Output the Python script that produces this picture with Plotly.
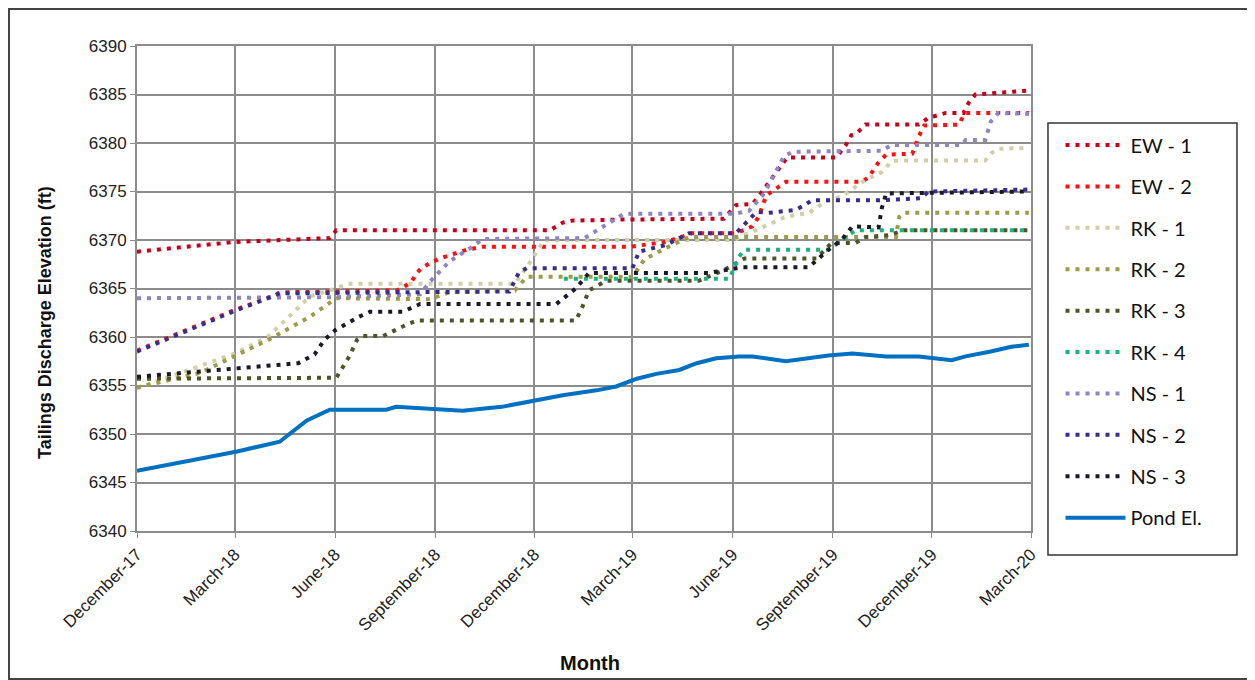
import plotly.graph_objects as go

# ---------------- data ----------------
ew1_dates = ["2017-12-01", "2018-03-01", "2018-05-27", "2018-06-02", "2018-12-15", "2018-12-27",
             "2019-01-05", "2019-02-17", "2019-05-24", "2019-05-29", "2019-06-04", "2019-06-19",
             "2019-06-25", "2019-07-04", "2019-07-12", "2019-07-21", "2019-09-04", "2019-09-13",
             "2019-09-18", "2019-09-23", "2019-10-01", "2019-11-19", "2019-11-28", "2019-12-06",
             "2019-12-14", "2019-12-30", "2020-01-04", "2020-01-10", "2020-02-12", "2020-02-28"]
ew1_vals = [6368.8, 6369.8, 6370.2, 6371.0, 6371.0, 6371.8,
            6372.0, 6372.1, 6372.2, 6372.8, 6373.6, 6373.7,
            6374.5, 6375.9, 6377.2, 6378.5, 6378.5, 6379.8,
            6380.8, 6381.0, 6381.9, 6381.9, 6382.6, 6382.9,
            6383.1, 6383.1, 6384.2, 6385.0, 6385.2, 6385.4]

ew2_dates = ["2017-12-01", "2018-03-01", "2018-04-07", "2018-04-11", "2018-07-27", "2018-08-01",
             "2018-08-10", "2018-08-15", "2018-08-20", "2018-09-05", "2018-09-30", "2018-10-14",
             "2019-02-26", "2019-03-12", "2019-04-01", "2019-04-25", "2019-06-04", "2019-06-19",
             "2019-06-25", "2019-06-28", "2019-07-02", "2019-07-07", "2019-07-20", "2019-09-28",
             "2019-10-04", "2019-10-13", "2019-10-20", "2019-11-13", "2019-11-16", "2019-11-19",
             "2019-11-24", "2019-12-26", "2019-12-28", "2020-01-01", "2020-02-28"]
ew2_vals = [6358.6, 6362.8, 6364.3, 6364.6, 6364.8, 6365.0,
            6365.7, 6366.6, 6367.2, 6368.1, 6369.0, 6369.3,
            6369.3, 6369.5, 6369.8, 6370.7, 6370.7, 6371.4,
            6372.4, 6373.4, 6374.6, 6375.0, 6376.0, 6376.0,
            6376.5, 6378.0, 6378.8, 6378.9, 6379.8, 6380.7,
            6381.8, 6381.9, 6382.4, 6383.1, 6383.1]

rk1_dates = ["2017-12-01", "2018-03-01", "2018-03-31", "2018-04-20", "2018-05-09", "2018-06-02",
             "2018-06-12", "2018-11-13", "2018-11-24", "2018-12-10", "2019-06-02", "2019-07-20",
             "2019-08-10", "2019-08-26", "2019-09-09", "2019-09-22", "2019-10-01", "2019-10-16",
             "2019-10-25", "2019-11-01", "2020-01-19", "2020-01-25", "2020-01-31", "2020-02-28"]
rk1_vals = [6354.7, 6358.3, 6360.0, 6362.1, 6364.2, 6365.0,
            6365.5, 6365.5, 6367.2, 6370.0, 6370.0, 6372.4,
            6372.8, 6374.0, 6374.5, 6375.5, 6376.2, 6377.0,
            6378.1, 6378.2, 6378.2, 6379.0, 6379.4, 6379.5]

rk2_dates = ["2017-12-01", "2018-01-28", "2018-04-02", "2018-05-09", "2018-05-24", "2018-06-02",
             "2018-08-27", "2018-09-14", "2018-11-13", "2018-11-24", "2019-03-01", "2019-03-12",
             "2019-04-01", "2019-04-22", "2019-10-29", "2019-11-01", "2019-11-05", "2020-02-28"]
rk2_vals = [6354.8, 6356.3, 6359.8, 6362.1, 6363.3, 6364.0,
            6363.9, 6364.6, 6364.8, 6366.2, 6366.2, 6368.0,
            6369.2, 6370.3, 6370.3, 6372.4, 6372.8, 6372.8]

rk3_dates = ["2017-12-01", "2018-06-02", "2018-06-14", "2018-06-21", "2018-06-26", "2018-07-15",
             "2018-08-06", "2018-08-15", "2019-01-08", "2019-01-14", "2019-01-20", "2019-02-05",
             "2019-05-01", "2019-05-24", "2019-06-12", "2019-08-17", "2019-08-31", "2019-09-22",
             "2019-10-01", "2019-10-23", "2019-11-05", "2020-02-28"]
rk3_vals = [6355.7, 6355.8, 6358.0, 6359.7, 6360.1, 6360.1,
            6361.3, 6361.7, 6361.7, 6363.1, 6364.8, 6365.8,
            6365.8, 6366.9, 6368.1, 6368.1, 6369.7, 6369.7,
            6370.3, 6370.5, 6371.0, 6371.0]

rk4_dates = ["2018-12-28", "2019-05-29", "2019-06-07", "2019-06-12", "2019-08-28", "2019-09-09",
             "2019-09-22", "2020-02-28"]
rk4_vals = [6366.0, 6366.0, 6368.3, 6369.0, 6369.0, 6370.0,
            6371.0, 6371.0]

ns1_dates = ["2017-12-01", "2018-06-02", "2018-08-18", "2018-08-27", "2018-09-14", "2018-10-05",
             "2018-10-14", "2019-01-16", "2019-02-08", "2019-02-21", "2019-06-02", "2019-06-16",
             "2019-06-30", "2019-07-07", "2019-07-14", "2019-07-18", "2019-07-26", "2019-10-16",
             "2019-10-25", "2019-12-28", "2020-01-01", "2020-01-19", "2020-01-24", "2020-01-31",
             "2020-02-28"]
ns1_vals = [6364.0, 6364.1, 6364.4, 6365.7, 6367.8, 6369.3,
            6370.1, 6370.2, 6371.8, 6372.7, 6372.7, 6373.0,
            6374.8, 6376.2, 6377.7, 6378.6, 6379.1, 6379.2,
            6379.8, 6379.8, 6380.3, 6380.3, 6382.2, 6383.1,
            6383.0]

ns2_dates = ["2017-12-01", "2018-03-01", "2018-04-07", "2018-04-11", "2018-11-08", "2018-11-17",
             "2018-11-24", "2019-03-01", "2019-03-07", "2019-04-01", "2019-04-15", "2019-04-22",
             "2019-06-04", "2019-06-10", "2019-06-23", "2019-07-04", "2019-07-29", "2019-08-06",
             "2019-08-13", "2019-10-13", "2019-11-21", "2019-11-28", "2020-02-28"]
ns2_vals = [6358.5, 6362.7, 6364.3, 6364.5, 6364.7, 6366.7,
            6367.1, 6367.1, 6368.8, 6369.5, 6370.3, 6370.7,
            6370.7, 6371.4, 6372.9, 6372.8, 6373.1, 6373.6,
            6374.1, 6374.1, 6374.3, 6375.0, 6375.2]

ns3_dates = ["2017-12-01", "2018-03-01", "2018-04-28", "2018-05-13", "2018-05-22", "2018-06-01",
             "2018-06-23", "2018-07-03", "2018-08-02", "2018-08-18", "2018-12-21", "2019-01-08",
             "2019-01-20", "2019-05-10", "2019-06-10", "2019-08-10", "2019-08-28", "2019-09-09",
             "2019-09-19", "2019-10-13", "2019-10-16", "2019-10-20", "2020-02-28"]
ns3_vals = [6355.9, 6356.8, 6357.3, 6358.2, 6359.7, 6360.7,
            6362.1, 6362.6, 6362.6, 6363.4, 6363.4, 6365.0,
            6366.6, 6366.6, 6367.2, 6367.2, 6369.0, 6370.0,
            6371.4, 6371.3, 6373.3, 6374.8, 6375.0]

pond_dates = ["2017-12-01", "2018-03-03", "2018-04-11", "2018-05-06", "2018-05-27", "2018-07-18",
              "2018-07-27", "2018-09-05", "2018-09-26", "2018-11-01", "2018-11-26", "2018-12-27",
              "2019-01-27", "2019-02-14", "2019-03-05", "2019-03-23", "2019-04-13", "2019-04-29",
              "2019-05-17", "2019-06-07", "2019-06-19", "2019-07-20", "2019-08-28", "2019-09-19",
              "2019-10-20", "2019-11-19", "2019-12-19", "2020-01-01", "2020-01-24", "2020-02-12",
              "2020-02-28"]
pond_vals = [6346.2, 6348.2, 6349.2, 6351.4, 6352.5, 6352.5,
             6352.8, 6352.6, 6352.4, 6352.8, 6353.3, 6354.0,
             6354.5, 6354.9, 6355.7, 6356.2, 6356.6, 6357.3,
             6357.8, 6358.0, 6358.0, 6357.5, 6358.1, 6358.3,
             6358.0, 6358.0, 6357.6, 6358.0, 6358.5, 6359.0,
             6359.2]

series_names = ["EW - 1", "EW - 2", "RK - 1", "RK - 2", "RK - 3", "RK - 4", "NS - 1", "NS - 2", "NS - 3", "Pond El."]
series_dates = [ew1_dates, ew2_dates, rk1_dates, rk2_dates, rk3_dates, rk4_dates, ns1_dates, ns2_dates, ns3_dates, pond_dates]
series_vals = [ew1_vals, ew2_vals, rk1_vals, rk2_vals, rk3_vals, rk4_vals, ns1_vals, ns2_vals, ns3_vals, pond_vals]
series_colors = ["#C8001E", "#FF1010", "#CFCFA8", "#9C9C48", "#4E5428", "#1FB07C", "#8F84C4", "#3A2C8E", "#1A1A24", "#0070C0"]

tick_dates = ["2017-12-01", "2018-03-01", "2018-06-01", "2018-09-01", "2018-12-01",
              "2019-03-01", "2019-06-01", "2019-09-01", "2019-12-01", "2020-03-01"]
tick_labels = ["December-17", "March-18", "June-18", "September-18", "December-18",
               "March-19", "June-19", "September-19", "December-19", "March-20"]

# ---------------- figure ----------------
fig = go.Figure()
for i, (name, d, v, c) in enumerate(zip(series_names, series_dates, series_vals, series_colors)):
    if name == "Pond El.":
        line = dict(color=c, width=4)
    else:
        line = dict(color=c, width=4, dash="4px,6px")
    fig.add_trace(go.Scatter(x=d, y=v, mode="lines", name=name, line=line,
                             legendgroup=str(i)))

grid_col = "#8C8C8C"
fig.update_layout(
    width=1247, height=672,
    margin=dict(l=129, r=224, t=38, b=149),
    paper_bgcolor="white", plot_bgcolor="white",
    font=dict(family="Liberation Sans, Arial, sans-serif", size=17, color="#222"),
    showlegend=True,
    legend=dict(x=1.033, y=0.836, xanchor="left", yanchor="top",
                borderwidth=0, bgcolor="rgba(0,0,0,0)",
                font=dict(family="Lato, Open Sans, sans-serif", size=20, color="#111"),
                tracegroupgap=12.4, itemwidth=60),
    xaxis=dict(type="date", range=["2017-12-01", "2020-03-01"],
               tickvals=tick_dates, ticktext=tick_labels, tickangle=-45,
               showgrid=True, gridcolor=grid_col, gridwidth=2,
               showline=True, linecolor=grid_col, linewidth=2, mirror=True,
               ticks="outside", ticklen=5, tickcolor=grid_col,
               tickfont=dict(size=17, color="#222")),
    yaxis=dict(range=[6340, 6390], dtick=5, tick0=6340,
               showgrid=True, gridcolor=grid_col, gridwidth=2,
               showline=True, linecolor=grid_col, linewidth=2, mirror=True,
               ticks="outside", ticklen=5, tickcolor=grid_col,
               tickfont=dict(size=17, color="#222")),
    annotations=[
        dict(text="<b>Tailings Discharge Elevation (ft)</b>", textangle=-90,
             xref="paper", yref="paper", x=-0.103, y=0.431,
             xanchor="center", yanchor="middle", showarrow=False,
             font=dict(size=18, color="#111")),
        dict(text="<b>Month</b>", xref="paper", yref="paper", x=0.507, y=-0.272,
             xanchor="center", yanchor="middle",
             showarrow=False, font=dict(size=20, color="#111")),
    ],
    shapes=[
        dict(type="rect", xref="paper", yref="paper",
             x0=-0.1432, x1=1.2472, y0=-0.3052, y1=1.0763,
             line=dict(color="#444", width=2)),
        dict(type="rect", xref="paper", yref="paper",
             x0=1.019, x1=1.2304, y0=-0.0495, y1=0.8412,
             line=dict(color="#333", width=1.5)),
    ],
)

fig.write_html("out.html")
